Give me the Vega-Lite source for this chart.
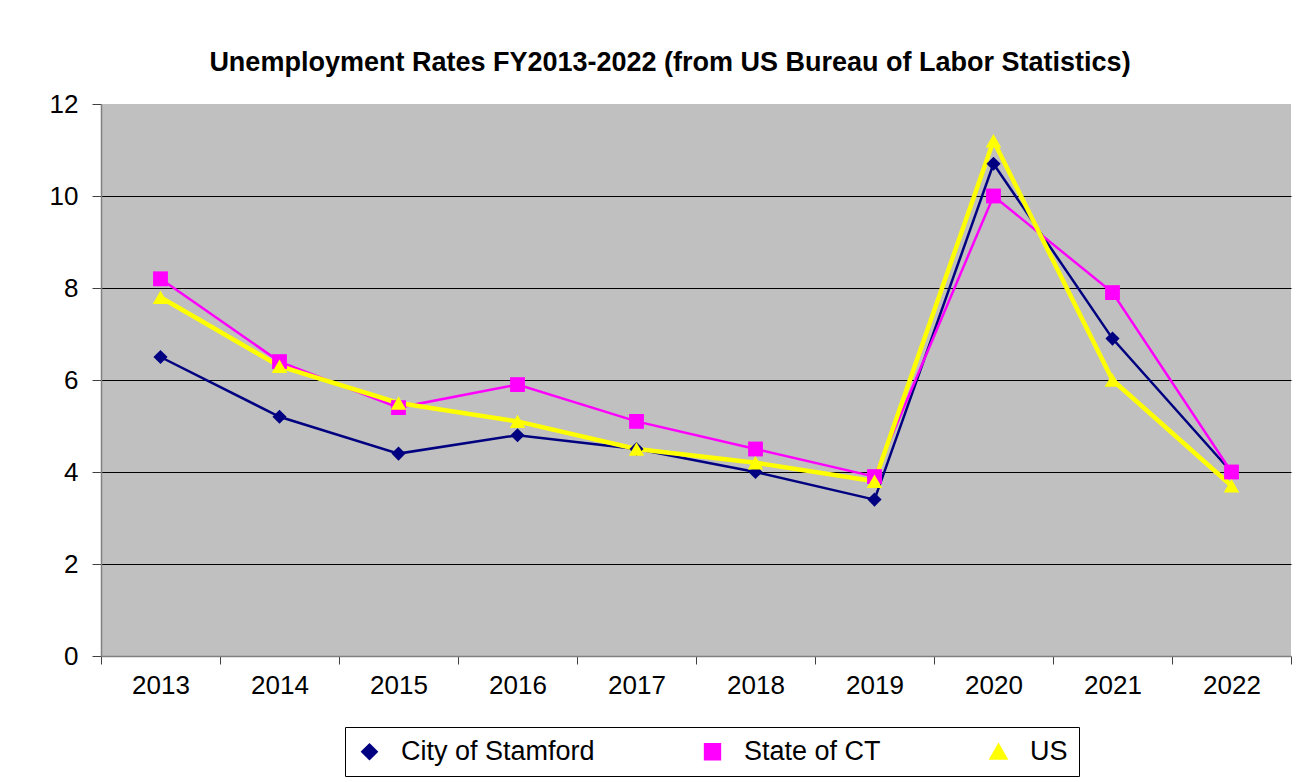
{
  "$schema": "https://vega.github.io/schema/vega-lite/v6.json",
  "autosize": {"type": "none"},
  "width": 1190,
  "height": 552,
  "padding": {"left": 101, "top": 104, "right": 23, "bottom": 126},
  "background": "white",
  "title": {
    "text": "Unemployment Rates FY2013-2022 (from US Bureau of Labor Statistics)",
    "font": "Liberation Sans",
    "fontSize": 27,
    "fontWeight": "bold",
    "color": "black",
    "anchor": "middle",
    "dx": -26,
    "offset": 14
  },
  "config": {
    "view": {"fill": "#C0C0C0", "stroke": null},
    "font": "Liberation Sans"
  },
  "data": {
    "values": [
      {"year": "2013", "series": "City of Stamford", "rate": 6.5},
      {"year": "2014", "series": "City of Stamford", "rate": 5.2},
      {"year": "2015", "series": "City of Stamford", "rate": 4.4},
      {"year": "2016", "series": "City of Stamford", "rate": 4.8},
      {"year": "2017", "series": "City of Stamford", "rate": 4.5},
      {"year": "2018", "series": "City of Stamford", "rate": 4.0},
      {"year": "2019", "series": "City of Stamford", "rate": 3.4},
      {"year": "2020", "series": "City of Stamford", "rate": 10.7},
      {"year": "2021", "series": "City of Stamford", "rate": 6.9},
      {"year": "2022", "series": "City of Stamford", "rate": 4.0},
      {"year": "2013", "series": "State of CT", "rate": 8.2},
      {"year": "2014", "series": "State of CT", "rate": 6.4},
      {"year": "2015", "series": "State of CT", "rate": 5.4},
      {"year": "2016", "series": "State of CT", "rate": 5.9},
      {"year": "2017", "series": "State of CT", "rate": 5.1},
      {"year": "2018", "series": "State of CT", "rate": 4.5},
      {"year": "2019", "series": "State of CT", "rate": 3.9},
      {"year": "2020", "series": "State of CT", "rate": 10.0},
      {"year": "2021", "series": "State of CT", "rate": 7.9},
      {"year": "2022", "series": "State of CT", "rate": 4.0},
      {"year": "2013", "series": "US", "rate": 7.8},
      {"year": "2014", "series": "US", "rate": 6.3},
      {"year": "2015", "series": "US", "rate": 5.5},
      {"year": "2016", "series": "US", "rate": 5.1},
      {"year": "2017", "series": "US", "rate": 4.5},
      {"year": "2018", "series": "US", "rate": 4.2},
      {"year": "2019", "series": "US", "rate": 3.8},
      {"year": "2020", "series": "US", "rate": 11.2},
      {"year": "2021", "series": "US", "rate": 6.0},
      {"year": "2022", "series": "US", "rate": 3.7}
    ]
  },
  "encoding": {
    "x": {
      "field": "year",
      "type": "ordinal",
      "bandPosition": 0.5,
      "scale": {"type": "band", "paddingInner": 0, "paddingOuter": 0},
      "axis": {
        "title": null,
        "labelAngle": 0,
        "tickBand": "extent",
        "labelFontSize": 26,
        "labelColor": "black",
        "labelFont": "Liberation Sans",
        "labelPadding": 8,
        "tickSize": 8,
        "tickColor": "#404040",
        "domainColor": "#808080",
        "domainWidth": 1.5,
        "grid": false
      }
    },
    "y": {
      "field": "rate",
      "type": "quantitative",
      "scale": {"domain": [0, 12], "nice": false},
      "axis": {
        "title": null,
        "values": [0, 2, 4, 6, 8, 10, 12],
        "labelFontSize": 26,
        "labelColor": "black",
        "labelFont": "Liberation Sans",
        "labelPadding": 14,
        "tickSize": 9,
        "tickColor": "#404040",
        "domainColor": "#808080",
        "domainWidth": 1.5,
        "grid": true,
        "gridColor": {"condition": {"test": "datum.value === 0 || datum.value === 12", "value": "transparent"}, "value": "black"},
        "gridWidth": 1
      }
    },
    "color": {
      "field": "series",
      "type": "nominal",
      "scale": {"domain": ["City of Stamford", "State of CT", "US"], "range": ["#000080", "#FF00FF", "#FFFF00"]},
      "legend": {
        "title": null,
        "orient": "none",
        "legendX": 244,
        "legendY": 623,
        "direction": "horizontal",
        "columns": 3,
        "padding": 11,
        "strokeColor": "black",
        "fillColor": "white",
        "labelFontSize": 27,
        "labelFont": "Liberation Sans",
        "labelColor": "black",
        "labelLimit": 400,
        "labelOffset": 18,
        "columnPadding": 104,
        "symbolSize": 400,
        "symbolStrokeWidth": 2.5
      }
    }
  },
  "layer": [
    {
      "transform": [{"filter": "datum.series !== 'US'"}],
      "mark": {"type": "line", "strokeWidth": 2.5}
    },
    {
      "transform": [{"filter": "datum.series === 'US'"}],
      "mark": {"type": "line", "strokeWidth": 4.5}
    },
    {
      "mark": {"type": "point", "filled": true, "opacity": 1},
      "encoding": {
        "shape": {
          "field": "series",
          "type": "nominal",
          "scale": {"domain": ["City of Stamford", "State of CT", "US"], "range": ["diamond", "square", "triangle-up"]},
          "legend": null
        },
        "size": {
          "field": "series",
          "type": "ordinal",
          "scale": {"domain": ["City of Stamford", "State of CT", "US"], "range": [200, 240, 330]},
          "legend": null
        }
      }
    }
  ]
}
